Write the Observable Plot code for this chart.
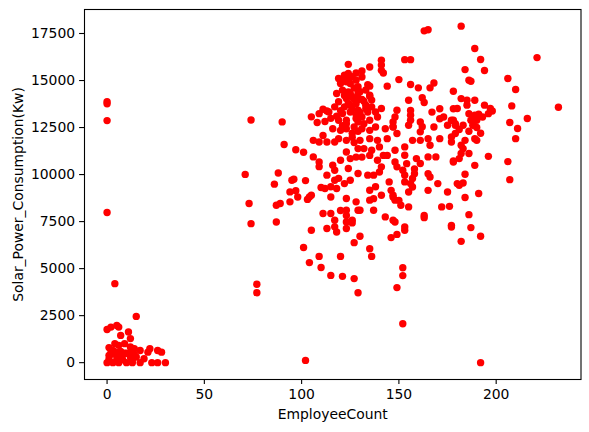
<!DOCTYPE html>
<html>
<head>
<meta charset="utf-8">
<script src="https://cdn.jsdelivr.net/npm/d3@7"></script>
<script src="https://cdn.jsdelivr.net/npm/@observablehq/plot@0.6"></script>
<style>
  html, body { margin: 0; padding: 0; background: white; }
  #chart { width: 589px; height: 432px; }
</style>
</head>
<body>
<div id="chart"></div>
<script>
// ---- Data (EmployeeCount, Solar_Power_Consumption(Kw)) ----
const lowX = [0,0,0,0,4,15,0,2,5,6,7,11,12,4,6,9,12,14,17,2,22,26,28,21,1,5,8,12,15,19,0,3,6,10,13,17,23,26,30,1,2,5,7,10,12,14,8,5,13,1,3,9,102,192];
const lowY = [13870,13760,12870,7980,4200,2460,1760,1890,1980,1890,1450,1630,1280,1010,920,1010,830,740,650,650,740,650,560,560,390,300,390,300,300,210,0,0,0,0,0,0,0,0,0,200,450,550,600,500,550,450,150,100,150,800,650,500,120,0];

const midX = [74,90,91,97,101,105,109,111,113,108,112,111,106,109,113,106,109,109,71,88,86,95,96,102,94,97,98,105,103,104,110,112,73,87,89,94,111,115,74,87,105,113,117,120,123,123,117,118,123,101,109,104,110,120,115,121,77,77,130,127,135,136,127,129,146,149,153,182,152,152,149,152,126,137,143,129];
const midY = [12900,12800,11600,11320,11190,13070,13240,13470,13380,12770,12820,12080,11820,11730,11730,10940,10670,10420,10010,10080,9490,9700,9750,9680,9080,9140,8810,8900,8680,8810,9310,9260,8460,8370,8460,8550,7930,7930,7390,7480,7040,7130,7570,8090,7830,7480,7220,6950,7130,6120,5650,5320,5060,5650,4640,4590,4170,3720,6720,6380,6060,5650,4470,3720,6650,6820,7040,6450,5050,4630,3990,2070,7430,8100,7750,8100];

const coreX = [124,122,119,124,128,131,135,141,141,141,142,144,150,120,123,125,128,129,131,135,121,124,129,118,123,126,129,135,136,119,117,122,125,128,133,136,114,121,125,129,134,138,141,115,119,123,128,131,135,139,149,148,147,147,134,135,
  116,120,123,127,131,135,138,143,147,119,117,123,126,130,135,139,144,149,129,132,136,140,142,148,123,125,128,131,135,139,141,144,148,120,116,117,124,129,134,137,140,149,113,119,117,125,122,115,118,145,138,135,141,147,148,115,123,128,135,
  121,126,127,122,124,126,130,132,133,127,120,118,123,126,129,132,130,128,124,131,125,133,121,127,129];
const coreY = [15860,15280,15110,15370,15400,15510,15720,16080,15820,15540,15400,14700,15050,14840,14930,14840,15020,14670,15190,14700,14490,14390,14310,14310,14050,14130,13990,14220,13960,13870,13600,13600,13690,13770,13690,13600,13330,13250,13330,13420,13330,13330,13510,12990,12890,12890,12980,13060,12890,13060,13420,13060,12800,12540,14780,14170,
  12440,12350,12440,12530,12440,12350,12530,12440,12530,11910,11730,11820,11990,11820,11910,11820,11910,12180,11380,11380,11290,11470,11020,11290,11200,10850,10930,10930,11020,10760,10410,11020,10670,10760,10500,10230,10320,10060,9970,9970,10140,10410,9970,9800,9700,9700,9520,9350,9260,9610,9350,9170,8900,8900,8640,8810,8730,8550,8640,
  15000,15200,14600,14200,13800,13500,13300,13900,14500,14000,13400,13100,12700,12200,12800,12700,14400,13200,15100,14000,14300,13500,12600,11700,12300];

const eastX = [163,165,153,156,156,160,166,168,162,163,155,156,156,156,155,167,171,173,171,178,177,161,162,
  161,168,175,179,165,166,171,177,157,161,153,153,159,161,165,169,165,166,170,178,180,175,165,157,156,155,157,152,153,146,147,150,151,155,137,130,123,126,147,148,153,163,163,172,176,177,181,158,158,154,153];
const eastY = [17640,17700,16110,16110,14790,14610,14610,14870,14090,13830,13950,13410,13150,12890,12620,13320,13500,13060,12970,13500,12890,12800,12540,
  12270,12530,12620,12710,11910,11560,11910,12000,11820,11820,11470,11030,10850,10590,10940,10940,10050,9870,9520,10670,9520,9070,9160,9790,9520,9070,9340,10230,9610,9160,8810,8630,8370,8280,8720,8100,8100,7570,7570,7480,7210,7830,7710,8280,8310,7300,9430,10300,10050,10580,9960];

const rightX = [182,189,192,184,194,221,186,187,206,210,178,182,185,185,189,180,194,197,198,196,208,232,216,207,211,186,188,189,191,187,190,178,183,179,188,193,210,179,177,182,184,183,182,181,178,189,190,186,196,189,206,207,184,183,191,184,186,177,187,192,181,186,190,192];
const rightY = [17890,16700,16120,15580,15530,16220,15020,14960,15110,14520,14430,14040,13950,13690,13950,13510,13690,13510,13380,13240,13650,13580,12980,12770,12450,13240,13060,13150,13210,12890,12890,12890,12620,12620,12620,13060,11910,12180,11730,11560,11820,11380,11120,10850,10720,11910,11820,11120,10970,10490,10690,9730,10020,9550,8990,8780,7870,7210,7180,6720,12400,12300,12500,12200];

const xTicks = [0, 50, 100, 150, 200];
const yTicks = [0, 2500, 5000, 7500, 10000, 12500, 15000, 17500];
const xLabel = "EmployeeCount";
const yLabel = "Solar_Power_Consumption(Kw)";

const groups = [[lowX, lowY], [midX, midY], [coreX, coreY], [eastX, eastY], [rightX, rightY]];
const data = groups.flatMap(([xs, ys]) => xs.map((x, i) => ({EmployeeCount: x, Solar: ys[i]})));

const chart = Plot.plot({
  width: 589,
  height: 432,
  marginLeft: 84,
  marginRight: 8.5,
  marginTop: 9,
  marginBottom: 53,
  style: {fontFamily: "DejaVu Sans", fontSize: "13.9px", color: "black", background: "white"},
  x: {domain: [-11.6, 243.6]},
  y: {domain: [-895, 18776]},
  marks: [
    Plot.dot(data, {x: "EmployeeCount", y: "Solar", r: 3.7, fill: "#ff0000", stroke: "none"}),
    Plot.frame({stroke: "black", strokeWidth: 1.1}),
    Plot.axisX({ticks: xTicks, tickSize: 4.9, tickPadding: 4.5, strokeWidth: 1.1, label: null, fontSize: 13.9, tickFormat: d => String(d)}),
    Plot.axisY({ticks: yTicks, tickSize: 4.9, tickPadding: 4.5, strokeWidth: 1.1, label: null, fontSize: 13.9, tickFormat: d => String(d)}),
    Plot.text([xLabel], {frameAnchor: "bottom", dy: 35, lineAnchor: "middle", fontSize: 13.9, fill: "black"}),
    Plot.text([yLabel], {frameAnchor: "left", dx: -66, rotate: -90, textAnchor: "middle", lineAnchor: "middle", fontSize: 13.9, fill: "black"})
  ]
});
document.getElementById("chart").appendChild(chart);
</script>
</body>
</html>
